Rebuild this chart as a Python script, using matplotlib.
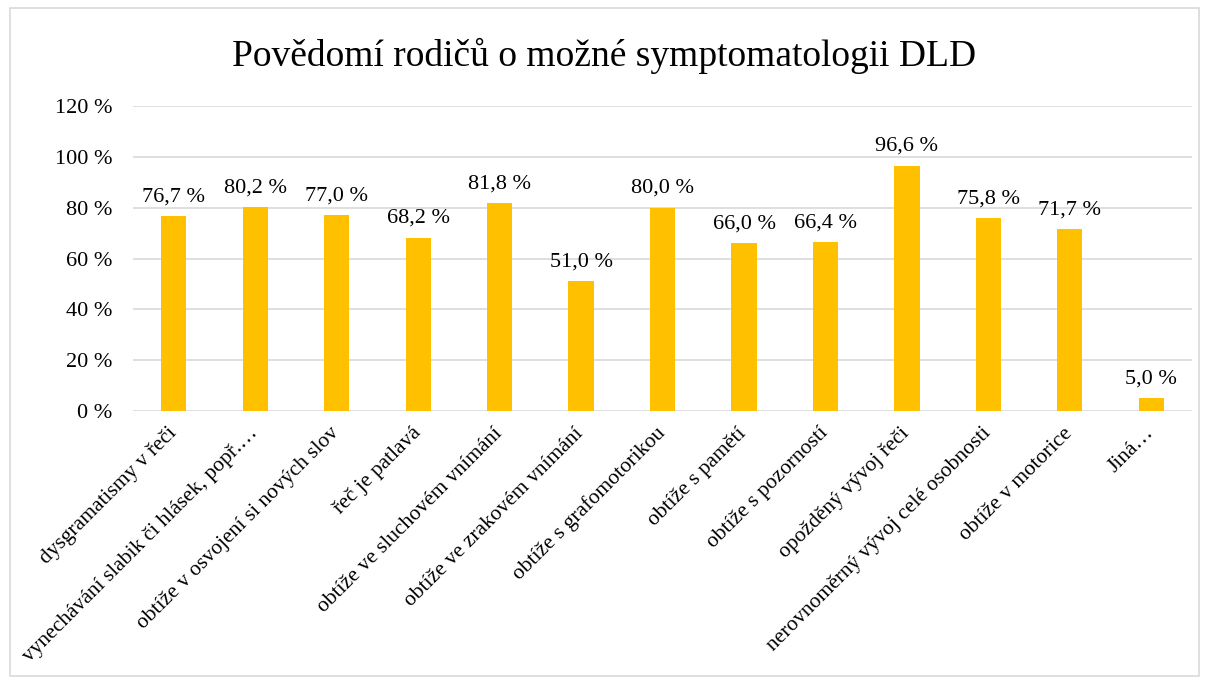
import matplotlib
matplotlib.use("Agg")
import matplotlib.pyplot as plt
from matplotlib.patches import Rectangle

categories = [
    "dysgramatismy v řeči",
    "vynechávání slabik či hlásek, popř.…",
    "obtíže v osvojení si nových slov",
    "řeč je patlavá",
    "obtíže ve sluchovém vnímání",
    "obtíže ve zrakovém vnímání",
    "obtíže s grafomotorikou",
    "obtíže s pamětí",
    "obtíže s pozorností",
    "opožděný vývoj řeči",
    "nerovnoměrný vývoj celé osobnosti",
    "obtíže v motorice",
    "Jiná…",
]
values = [76.7, 80.2, 77.0, 68.2, 81.8, 51.0, 80.0, 66.0, 66.4, 96.6, 75.8, 71.7, 5.0]
yticks = [0, 20, 40, 60, 80, 100, 120]

plt.rcParams["font.family"] = ["Liberation Serif", "DejaVu Serif"]

fig = plt.figure(figsize=(12.09, 6.84), dpi=100)
ax = fig.add_axes([0.110, 0.399, 0.876, 0.446])

x = range(len(categories))
ax.bar(x, values, width=0.31, color="#FFC000", zorder=3)

for xi, v in zip(x, values):
    ax.annotate(f"{v:.1f} %".replace(".", ","), (xi, v), xytext=(0, 7),
                textcoords="offset points", ha="center", va="bottom", fontsize=16)

ax.set_xlim(-0.5, len(categories) - 0.5)
ax.set_ylim(0, 120)
ax.set_yticks(yticks)
ax.set_yticklabels([f"{t} %" for t in yticks], fontsize=16)
ax.set_xticks(list(x))
ax.set_xticklabels(categories, rotation=45, ha="right", va="center",
                   rotation_mode="anchor", fontsize=15.5)
ax.tick_params(length=0)
ax.tick_params(axis="y", pad=15)
ax.tick_params(axis="x", pad=14)
ax.grid(axis="y", color="#D9D9D9", linewidth=1.2, zorder=0)
for s in ax.spines.values():
    s.set_visible(False)

fig.text(0.5, 0.918, "Povědomí rodičů o možné symptomatologii DLD", ha="center",
         va="center", fontsize=27)

fig.patches.append(Rectangle((0.008, 0.012), 0.984, 0.976, transform=fig.transFigure,
                             fill=False, edgecolor="#D9D9D9", linewidth=1.2))

fig.savefig("out.png", dpi=100)
